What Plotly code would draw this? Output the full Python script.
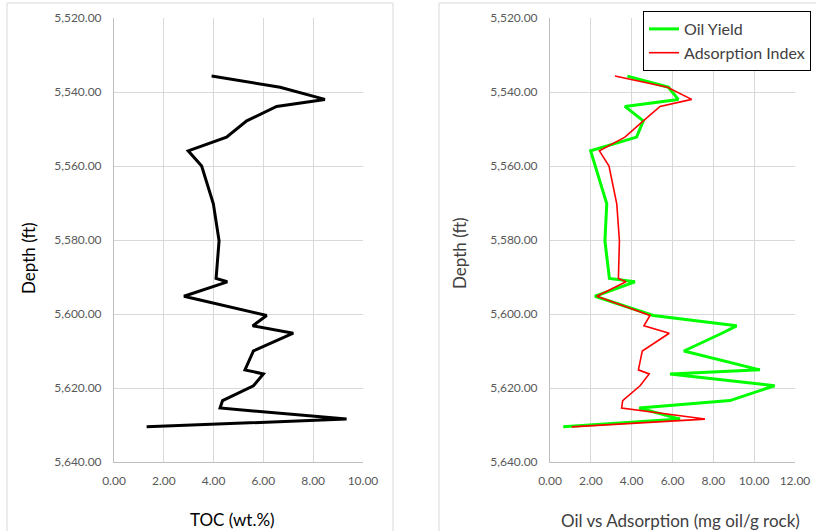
import plotly.graph_objects as go

# Sample depths (ft) shared by all logs
depth = [5535.7, 5538.7, 5542.0, 5543.9, 5547.8, 5552.2, 5555.9, 5560.0,
         5570.2, 5580.2, 5590.4, 5591.3, 5595.2, 5600.4, 5603.2, 5605.2,
         5610.0, 5615.1, 5616.2, 5619.4, 5623.4, 5625.4, 5628.4, 5630.5]

# Total organic carbon (wt.%)
toc = [3.92, 6.67, 8.47, 6.53, 5.33, 4.52, 2.98, 3.52,
       3.99, 4.22, 4.10, 4.55, 2.81, 6.13, 5.57, 7.20,
       5.60, 5.26, 6.00, 5.60, 4.36, 4.26, 9.34, 1.31]

# Oil yield and adsorption index (mg oil/g rock)
oil_yield = [3.79, 5.80, 6.28, 3.67, 4.57, 4.24, 1.99, 2.22,
             2.78, 2.69, 2.91, 4.16, 2.20, 5.06, 9.14, 8.42,
             6.56, 10.28, 5.88, 11.00, 8.81, 4.37, 6.37, 0.65]
adsorption = [3.18, 5.75, 6.94, 5.39, 4.57, 3.67, 2.42, 2.89,
              3.27, 3.40, 3.35, 3.72, 2.29, 4.90, 4.60, 5.84,
              4.52, 4.33, 4.86, 4.41, 3.56, 3.51, 7.59, 1.06]

W, H = 816, 531
FONT = "Lato, 'Open Sans', sans-serif"
TICK_COLOR = "#595959"
GRID = "#d9d9d9"
AXLINE = "#bfbfbf"


def px_x(p):
    return p / W


def px_y(p):
    return 1 - p / H


fig = go.Figure()

fig.add_trace(go.Scatter(
    x=toc, y=depth, mode="lines", xaxis="x", yaxis="y",
    line=dict(color="black", width=3), showlegend=False, name="TOC"))

fig.add_trace(go.Scatter(
    x=oil_yield, y=depth, mode="lines", xaxis="x2", yaxis="y2",
    line=dict(color="#00ff00", width=3), name="Oil Yield"))

fig.add_trace(go.Scatter(
    x=adsorption, y=depth, mode="lines", xaxis="x2", yaxis="y2",
    line=dict(color="#ff0000", width=1.6), name="Adsorption Index"))

ydom = [px_y(462), px_y(18)]
yaxis_common = dict(
    range=[5640, 5520], dtick=20, tick0=5520, tickformat=",.2f",
    showgrid=True, gridcolor=GRID, gridwidth=1,
    showline=True, linecolor=AXLINE, linewidth=1,
    zeroline=False, ticks="", ticklabelstandoff=9, automargin=False,
    tickfont=dict(family=FONT, size=12, color=TICK_COLOR),
    domain=ydom,
)
xaxis_common = dict(
    dtick=2, tick0=0, tickformat=".2f",
    showgrid=True, gridcolor=GRID, gridwidth=1,
    showline=True, linecolor=AXLINE, linewidth=1,
    zeroline=False, ticks="", ticklabelstandoff=8, automargin=False,
    tickfont=dict(family=FONT, size=12, color=TICK_COLOR),
)


def title(text, x, y, color, angle=0):
    return dict(text=text, xref="paper", yref="paper",
                x=px_x(x), y=px_y(y), xanchor="center", yanchor="middle",
                textangle=angle, showarrow=False,
                font=dict(family=FONT, size=17, color=color))


fig.update_layout(
    width=W, height=H,
    margin=dict(l=0, r=0, t=0, b=0, autoexpand=False),
    paper_bgcolor="white", plot_bgcolor="white",
    font=dict(family=FONT),
    xaxis=dict(xaxis_common, range=[0, 10], domain=[px_x(114), px_x(363)], anchor="y"),
    yaxis=dict(yaxis_common, anchor="x"),
    xaxis2=dict(xaxis_common, range=[0, 12], domain=[px_x(550), px_x(795)], anchor="y2"),
    yaxis2=dict(yaxis_common, anchor="x2"),
    legend=dict(
        x=px_x(643), y=px_y(11), xanchor="left", yanchor="top",
        bgcolor="white", bordercolor="black", borderwidth=1,
        font=dict(family=FONT, size=16, color="#404040"),
        itemwidth=30, tracegroupgap=0,
    ),
    shapes=[
        # chart-area frames
        dict(type="rect", xref="paper", yref="paper",
             x0=px_x(7), x1=px_x(393), y0=-0.02, y1=px_y(3),
             line=dict(color=GRID, width=1)),
        dict(type="rect", xref="paper", yref="paper",
             x0=px_x(439), x1=1.02, y0=-0.02, y1=px_y(3),
             line=dict(color=GRID, width=1)),
    ],
    annotations=[
        title("Depth (ft)", 28, 258, "black", -90),
        title("Depth (ft)", 459, 253, "#404040", -90),
        title("TOC (wt.%)", 232, 519, "black"),
        title("Oil vs Adsorption (mg oil/g rock)", 680, 520, "#404040"),
    ],
)

fig.write_html("out.html")
